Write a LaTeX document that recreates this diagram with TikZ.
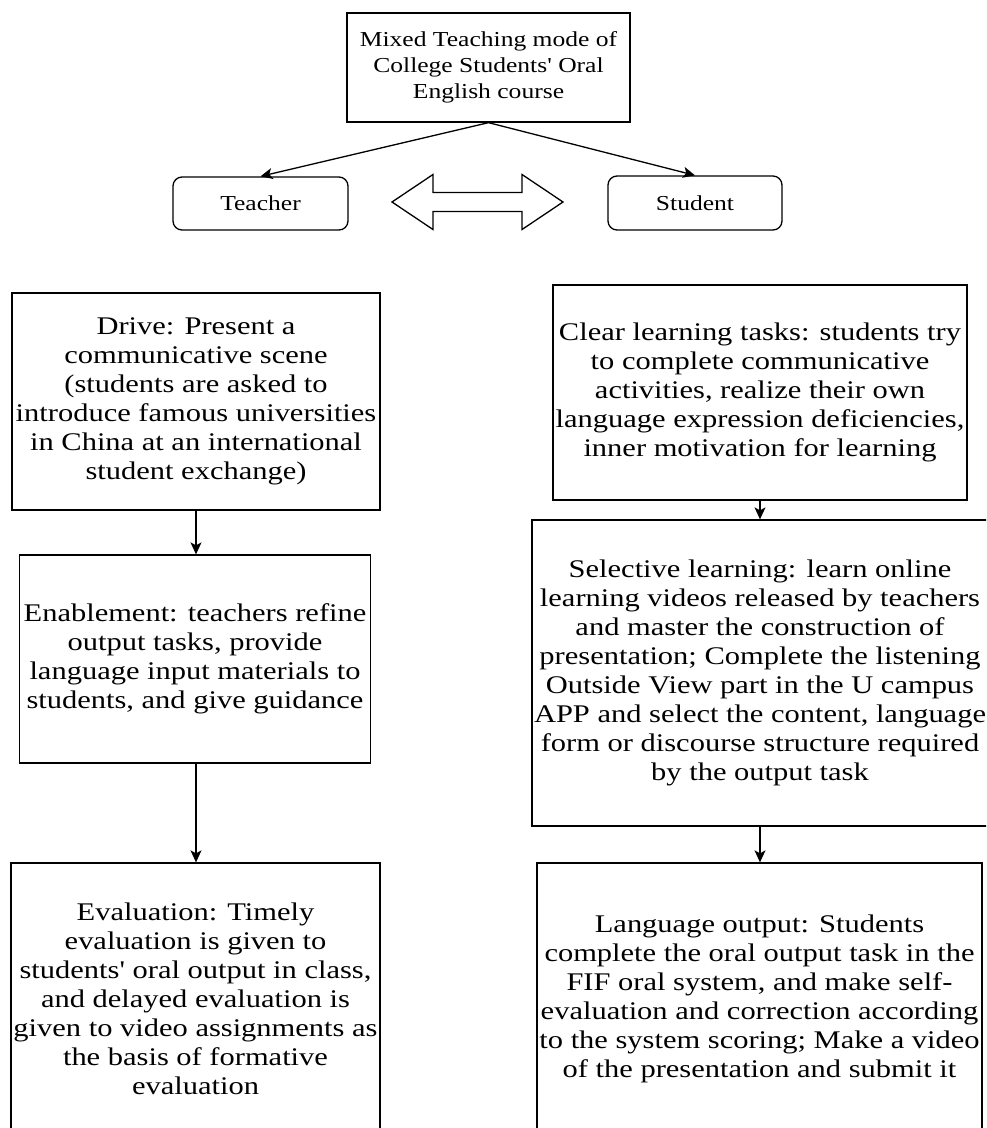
\documentclass[tikz,border=0pt]{standalone}
\usepackage{fontspec}
\setmainfont{Liberation Serif}[FakeStretch=1.2, Ligatures=TeXOff]
\usetikzlibrary{arrows.meta}
\tikzset{
  box/.style={draw, line width=1.3pt, inner sep=0pt, align=center,
    font=\fontsize{25.4}{29}\selectfont},
  topbox/.style={draw, line width=1.3pt, inner sep=0pt, align=center,
    font=\fontsize{21.3}{26}\selectfont},
  rbox/.style={topbox, rounded corners=9pt},
  arr/.style={line width=1.3pt, -{Stealth[length=12pt,width=11pt,inset=3pt]}},
  dbl/.style={draw, line width=1.3pt, line join=miter}
}
\begin{document}
\begin{tikzpicture}[x=1pt,y=1pt]
\useasboundingbox (0,0) rectangle (986,-1128);
\clip (0,0) rectangle (986,-1128);
% top section
\node[topbox, minimum width=283pt, minimum height=109pt] (top) at (488.5,-67.5)
  {Mixed Teaching mode of\\College Students' Oral\\English course};
\node[rbox, minimum width=175pt, minimum height=53pt] (teacher) at (260.5,-203.5) {Teacher};
\node[rbox, minimum width=174pt, minimum height=54pt] (student) at (695,-203) {Student};
\draw[arr] (top.south) -- (teacher.north);
\draw[arr] (top.south) -- (student.north);
% double arrow
\draw[dbl] (392,-202) -- (433,-174.5) -- (433,-192.5) -- (522,-192.5) -- (522,-174.5)
  -- (563,-202) -- (522,-229.5) -- (522,-211.5) -- (433,-211.5) -- (433,-229.5) -- cycle;
% left column
\node[box, minimum width=368pt, minimum height=217pt] (l1) at (196,-401.5)
  {Drive: Present a\\communicative scene\\(students are asked to\\introduce famous universities\\in China at an international\\student exchange)};
\node[box, minimum width=351pt, minimum height=208pt] (l2) at (195,-659)
  {Enablement: teachers refine\\output tasks, provide\\language input materials to\\students, and give guidance};
\node[box, minimum width=369pt, minimum height=272pt] (l3) at (195.5,-999)
  {Evaluation: Timely\\evaluation is given to\\students' oral output in class,\\and delayed evaluation is\\given to video assignments as\\the basis of formative\\evaluation};
% right column
\node[box, minimum width=414pt, minimum height=215pt] (r1) at (760,-392.5)
  {Clear learning tasks: students try\\to complete communicative\\activities, realize their own\\language expression deficiencies,\\inner motivation for learning};
\node[box, minimum width=456pt, minimum height=306pt] (r2) at (760,-673)
  {Selective learning: learn online\\learning videos released by teachers\\and master the construction of\\presentation; Complete the listening\\Outside View part in the U campus\\APP and select the content, language\\form or discourse structure required\\by the output task};
\node[box, minimum width=445pt, minimum height=272pt] (r3) at (759.5,-999)
  {Language output: Students\\complete the oral output task in the\\FIF oral system, and make self-\\evaluation and correction according\\to the system scoring; Make a video\\of the presentation and submit it};
% connectors
\draw[arr] (l1.south -| 196,0) -- (l2.north -| 196,0);
\draw[arr] (l2.south -| 196,0) -- (l3.north -| 196,0);
\draw[arr] (r1.south -| 760,0) -- (r2.north -| 760,0);
\draw[arr] (r2.south -| 760,0) -- (r3.north -| 760,0);
\end{tikzpicture}
\end{document}
